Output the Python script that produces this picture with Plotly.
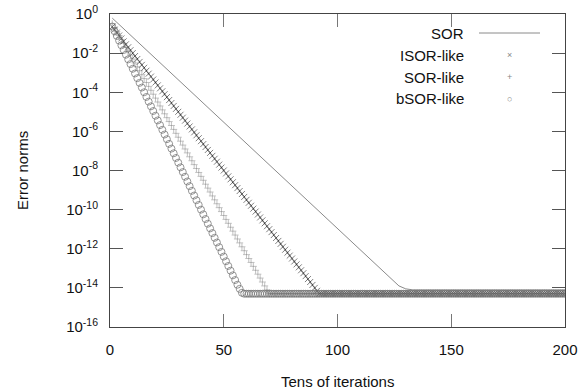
import plotly.graph_objects as go

# ---- data (log10 of error norm) ----
series_names = ["SOR", "ISOR-like", "SOR-like", "bSOR-like"]

sor_x = [1, 20, 40, 60, 80, 100, 120, 124, 127, 130, 133, 200]
sor_log = [-0.21, -2.28, -4.46, -6.64, -8.82, -11.0, -13.18, -13.6, -13.9, -14.05, -14.1, -14.1]

isor_x = list(range(1, 201))
isor_log = [
    -0.65, -0.80, -0.95, -1.10, -1.25, -1.40, -1.55, -1.70, -1.85, -2.00,
    -2.15, -2.30, -2.45, -2.60, -2.75, -2.90, -3.05, -3.20, -3.35, -3.50,
    -3.65, -3.80, -3.95, -4.10, -4.25, -4.40, -4.55, -4.70, -4.85, -5.00,
    -5.15, -5.30, -5.45, -5.60, -5.75, -5.90, -6.05, -6.20, -6.35, -6.50,
    -6.65, -6.80, -6.95, -7.10, -7.25, -7.40, -7.55, -7.70, -7.85, -8.00,
    -8.15, -8.30, -8.45, -8.60, -8.75, -8.90, -9.05, -9.20, -9.35, -9.50,
    -9.65, -9.80, -9.95, -10.10, -10.25, -10.40, -10.55, -10.70, -10.85, -11.00,
    -11.15, -11.30, -11.45, -11.60, -11.75, -11.90, -12.05, -12.20, -12.35, -12.50,
    -12.65, -12.80, -12.95, -13.10, -13.25, -13.40, -13.55, -13.70, -13.85, -14.00,
    -14.15, -14.30, -14.3, -14.3, -14.3, -14.3, -14.3, -14.3, -14.3, -14.3,
    -14.3, -14.3, -14.3, -14.3, -14.3, -14.3, -14.3, -14.3, -14.3, -14.3,
    -14.3, -14.3, -14.3, -14.3, -14.3, -14.3, -14.3, -14.3, -14.3, -14.3,
    -14.3, -14.3, -14.3, -14.3, -14.3, -14.3, -14.3, -14.3, -14.3, -14.3,
    -14.3, -14.3, -14.3, -14.3, -14.3, -14.3, -14.3, -14.3, -14.3, -14.3,
    -14.3, -14.3, -14.3, -14.3, -14.3, -14.3, -14.3, -14.3, -14.3, -14.3,
    -14.3, -14.3, -14.3, -14.3, -14.3, -14.3, -14.3, -14.3, -14.3, -14.3,
    -14.3, -14.3, -14.3, -14.3, -14.3, -14.3, -14.3, -14.3, -14.3, -14.3,
    -14.3, -14.3, -14.3, -14.3, -14.3, -14.3, -14.3, -14.3, -14.3, -14.3,
    -14.3, -14.3, -14.3, -14.3, -14.3, -14.3, -14.3, -14.3, -14.3, -14.3,
    -14.3, -14.3, -14.3, -14.3, -14.3, -14.3, -14.3, -14.3, -14.3, -14.3,
]

sorlike_x = list(range(1, 201))
sorlike_log = [
    -0.5, -0.7, -0.9, -1.1, -1.3, -1.5, -1.7, -1.9, -2.1, -2.3,
    -2.5, -2.7, -2.9, -3.1, -3.3, -3.5, -3.7, -3.9, -4.1, -4.3,
    -4.5, -4.7, -4.9, -5.1, -5.3, -5.5, -5.7, -5.9, -6.1, -6.3,
    -6.5, -6.7, -6.9, -7.1, -7.3, -7.5, -7.7, -7.9, -8.1, -8.3,
    -8.5, -8.7, -8.9, -9.1, -9.3, -9.5, -9.7, -9.9, -10.1, -10.3,
    -10.5, -10.7, -10.9, -11.1, -11.3, -11.5, -11.7, -11.9, -12.1, -12.3,
    -12.5, -12.7, -12.9, -13.1, -13.3, -13.5, -13.7, -13.9, -14.1, -14.3,
    -14.3, -14.3, -14.3, -14.3, -14.3, -14.3, -14.3, -14.3, -14.3, -14.3,
    -14.3, -14.3, -14.3, -14.3, -14.3, -14.3, -14.3, -14.3, -14.3, -14.3,
    -14.3, -14.3, -14.3, -14.3, -14.3, -14.3, -14.3, -14.3, -14.3, -14.3,
    -14.3, -14.3, -14.3, -14.3, -14.3, -14.3, -14.3, -14.3, -14.3, -14.3,
    -14.3, -14.3, -14.3, -14.3, -14.3, -14.3, -14.3, -14.3, -14.3, -14.3,
    -14.3, -14.3, -14.3, -14.3, -14.3, -14.3, -14.3, -14.3, -14.3, -14.3,
    -14.3, -14.3, -14.3, -14.3, -14.3, -14.3, -14.3, -14.3, -14.3, -14.3,
    -14.3, -14.3, -14.3, -14.3, -14.3, -14.3, -14.3, -14.3, -14.3, -14.3,
    -14.3, -14.3, -14.3, -14.3, -14.3, -14.3, -14.3, -14.3, -14.3, -14.3,
    -14.3, -14.3, -14.3, -14.3, -14.3, -14.3, -14.3, -14.3, -14.3, -14.3,
    -14.3, -14.3, -14.3, -14.3, -14.3, -14.3, -14.3, -14.3, -14.3, -14.3,
    -14.3, -14.3, -14.3, -14.3, -14.3, -14.3, -14.3, -14.3, -14.3, -14.3,
    -14.3, -14.3, -14.3, -14.3, -14.3, -14.3, -14.3, -14.3, -14.3, -14.3,
]

bsor_x = list(range(1, 201))
bsor_log = [
    -0.64, -0.88, -1.12, -1.36, -1.60, -1.84, -2.08, -2.32, -2.56, -2.80,
    -3.04, -3.28, -3.52, -3.76, -4.00, -4.24, -4.48, -4.72, -4.96, -5.20,
    -5.44, -5.68, -5.92, -6.16, -6.40, -6.64, -6.88, -7.12, -7.36, -7.60,
    -7.84, -8.08, -8.32, -8.56, -8.80, -9.04, -9.28, -9.52, -9.76, -10.00,
    -10.24, -10.48, -10.72, -10.96, -11.20, -11.44, -11.68, -11.92, -12.16, -12.40,
    -12.64, -12.88, -13.12, -13.36, -13.60, -13.84, -14.05, -14.25, -14.3, -14.3,
    -14.3, -14.3, -14.3, -14.3, -14.3, -14.3, -14.3, -14.3, -14.3, -14.3,
    -14.3, -14.3, -14.3, -14.3, -14.3, -14.3, -14.3, -14.3, -14.3, -14.3,
    -14.3, -14.3, -14.3, -14.3, -14.3, -14.3, -14.3, -14.3, -14.3, -14.3,
    -14.3, -14.3, -14.3, -14.3, -14.3, -14.3, -14.3, -14.3, -14.3, -14.3,
    -14.3, -14.3, -14.3, -14.3, -14.3, -14.3, -14.3, -14.3, -14.3, -14.3,
    -14.3, -14.3, -14.3, -14.3, -14.3, -14.3, -14.3, -14.3, -14.3, -14.3,
    -14.3, -14.3, -14.3, -14.3, -14.3, -14.3, -14.3, -14.3, -14.3, -14.3,
    -14.3, -14.3, -14.3, -14.3, -14.3, -14.3, -14.3, -14.3, -14.3, -14.3,
    -14.3, -14.3, -14.3, -14.3, -14.3, -14.3, -14.3, -14.3, -14.3, -14.3,
    -14.3, -14.3, -14.3, -14.3, -14.3, -14.3, -14.3, -14.3, -14.3, -14.3,
    -14.3, -14.3, -14.3, -14.3, -14.3, -14.3, -14.3, -14.3, -14.3, -14.3,
    -14.3, -14.3, -14.3, -14.3, -14.3, -14.3, -14.3, -14.3, -14.3, -14.3,
    -14.3, -14.3, -14.3, -14.3, -14.3, -14.3, -14.3, -14.3, -14.3, -14.3,
    -14.3, -14.3, -14.3, -14.3, -14.3, -14.3, -14.3, -14.3, -14.3, -14.3,
]

y_tick_exps = [0, -2, -4, -6, -8, -10, -12, -14, -16]
x_tick_vals = [0, 50, 100, 150, 200]

FONT = "Liberation Sans, Arial, Helvetica, sans-serif"
FS = 15

W, H = 587, 391
L, R, T, B = 110, 22, 14, 64
PW = W - L - R
PH = H - T - B


def px(X):
    return (X - L) / PW


def py(Y):
    return 1 - (Y - T) / PH


def pw(v):
    return [10 ** e for e in v]


fig = go.Figure()
fig.add_trace(go.Scatter(x=sor_x, y=pw(sor_log), mode="lines", name=series_names[0],
                         line=dict(color="#8a8a8a", width=1)))
fig.add_trace(go.Scatter(x=isor_x, y=pw(isor_log), mode="markers", name=series_names[1],
                         marker=dict(symbol="x-thin-open", size=6, color="rgba(0,0,0,0.5)",
                                     line=dict(width=1, color="rgba(0,0,0,0.5)"))))
fig.add_trace(go.Scatter(x=sorlike_x, y=pw(sorlike_log), mode="markers", name=series_names[2],
                         marker=dict(symbol="cross-thin-open", size=5, color="rgba(100,100,100,0.4)",
                                     line=dict(width=1, color="rgba(100,100,100,0.4)"))))
fig.add_trace(go.Scatter(x=bsor_x, y=pw(bsor_log), mode="markers", name=series_names[3],
                         marker=dict(symbol="circle-open", size=7, color="rgba(110,110,110,0.8)",
                                     line=dict(width=0.9, color="rgba(110,110,110,0.8)"))))

# manual gnuplot-style legend (text right-aligned, sample on the right)
leg_y = [33, 55, 77, 99]
for i, name in enumerate(series_names):
    fig.add_annotation(x=px(466), y=py(leg_y[i]), xref="paper", yref="paper",
                       text=name, showarrow=False, xanchor="right", yanchor="middle",
                       font=dict(family=FONT, size=FS, color="#111"))
fig.add_shape(type="line", xref="paper", yref="paper", x0=px(479), x1=px(540),
              y0=py(33), y1=py(33), line=dict(color="#8a8a8a", width=1))
for i, g in zip([1, 2, 3], ["×", "+", "○"]):
    fig.add_annotation(x=px(509), y=py(leg_y[i]), xref="paper", yref="paper",
                       text=g, showarrow=False, xanchor="center", yanchor="middle",
                       font=dict(family=FONT, size=9, color="#888"))

# axis titles
fig.add_annotation(x=px(337.5), y=py(381), xref="paper", yref="paper",
                   text="Tens of iterations", showarrow=False, xanchor="center", yanchor="middle",
                   font=dict(family=FONT, size=FS, color="#111"))
fig.add_annotation(x=px(22), y=py(171), xref="paper", yref="paper",
                   text="Error norms", showarrow=False, textangle=-90, xanchor="center",
                   yanchor="middle", font=dict(family=FONT, size=FS, color="#111"))

fig.update_layout(
    width=W, height=H,
    margin=dict(l=L, r=R, t=T, b=B, autoexpand=False),
    paper_bgcolor="white", plot_bgcolor="white",
    showlegend=False,
    font=dict(family=FONT, size=FS, color="#111"),
)
fig.update_xaxes(range=[0, 200], tickvals=x_tick_vals, ticktext=[str(v) for v in x_tick_vals],
                 ticks="inside", ticklen=13, tickcolor="#777", showline=True, linecolor="#444",
                 linewidth=1, mirror="ticks", showgrid=False, zeroline=False, automargin=False,
                 ticklabelstandoff=9, ticklabeloverflow="allow",
                 tickfont=dict(family=FONT, size=FS, color="#111"))
fig.update_yaxes(type="log", range=[-16, 0], tickvals=[10 ** e for e in y_tick_exps],
                 ticktext=["10<sup>%d</sup>" % e for e in y_tick_exps],
                 ticks="inside", ticklen=13, tickcolor="#555", showline=True, linecolor="#444",
                 linewidth=1, mirror="ticks", showgrid=False, zeroline=False, automargin=False,
                 ticklabelstandoff=8, ticklabeloverflow="allow",
                 tickfont=dict(family=FONT, size=FS, color="#111"))

fig.write_html("out.html", config={"displayModeBar": False},
               post_script="document.body.style.margin='0';document.body.style.overflow='hidden';")
